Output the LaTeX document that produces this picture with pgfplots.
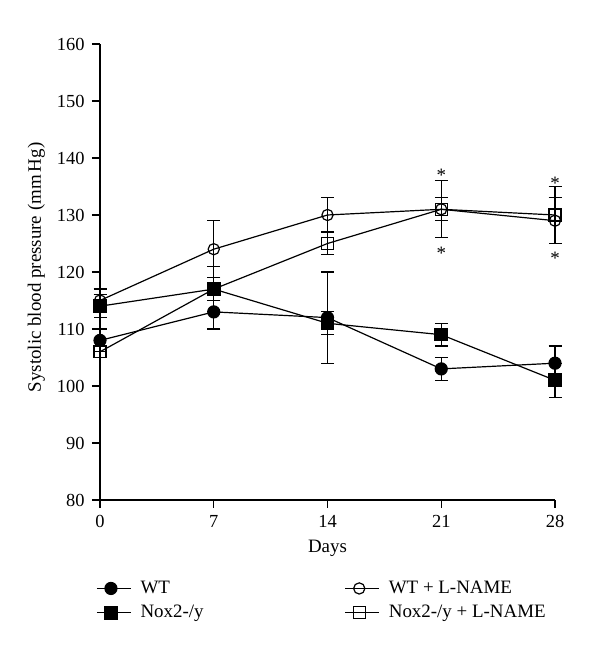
\documentclass[border=0pt]{standalone}
\usepackage{fontspec}
\setmainfont{Liberation Serif}
\usepackage{pgfplots}
\pgfplotsset{compat=1.18}
\usetikzlibrary{calc}
\begin{document}
\fontsize{19}{22}\selectfont
\begin{tikzpicture}
\begin{axis}[name=ax, scale only axis, width=455bp, height=456bp,
  xmin=0, xmax=28, ymin=80, ymax=160,
  axis x line=bottom, axis y line=left,
  axis line style={-, line width=1.2bp, black},
  xtick={0,7,14,21,28}, ytick={80,90,...,160},
  tick align=outside, major tick length=8bp,
  tick style={line width=1.2bp, black},
  /pgf/number format/assume math mode=true,
  ticklabel style={font=\fontsize{18.5}{22}\selectfont},
  xticklabel style={yshift=-1bp},
  yticklabel style={xshift=-1bp},
  clip=false,
  xlabel={Days}, ylabel={Systolic blood pressure (mm\,Hg)},
  xlabel style={at={(axis description cs:0.5,-0.105)}, anchor=center, font=\fontsize{19}{22}\selectfont},
  ylabel style={at={(axis description cs:-0.14,0.51)}, anchor=center, rotate=0, font=\fontsize{19}{22}\selectfont},
  legend columns=2, legend cell align=left,
  legend style={draw=none, fill=none, at={(axis description cs:-0.015,-0.168)}, anchor=north west,
    font=\fontsize{19}{22}\selectfont, row sep=5bp,
    /tikz/every even column/.append style={column sep=139bp},
    /tikz/every odd column/.append style={column sep=7bp}},
  legend image code/.code={\draw[mark repeat=2, mark phase=2] plot coordinates {(0bp,0bp) (14bp,0bp) (34bp,0bp)};},
  every axis plot/.append style={line width=1.2bp, black},
  error bars/error bar style={line width=1.2bp, black},
  error bars/error mark options={rotate=90, mark size=6.5bp, line width=1.2bp, black},
]
% WT
\addplot+[black, mark=*, mark size=6bp, mark options={fill=black, solid},
  error bars/.cd, y dir=both, y explicit]
  coordinates {(0,108) +- (0,2) (7,113) +- (0,3) (14,112) +- (0,8) (21,103) +- (0,2) (28,104) +- (0,3)};
\addlegendentry{WT}
% WT + L-NAME
\addplot+[black, mark=o, mark size=5.6bp, mark options={fill=white, solid},
  error bars/.cd, y dir=both, y explicit]
  coordinates {(0,115) +- (0,2) (7,124) +- (0,5) (14,130) +- (0,3) (21,131) +- (0,5) (28,129) +- (0,4)};
\addlegendentry{WT + L-NAME}
% Nox2-/y
\addplot+[black, mark=square*, mark size=6.2bp, mark options={fill=black, solid},
  error bars/.cd, y dir=both, y explicit]
  coordinates {(0,114) +- (0,2) (7,117) +- (0,2) (14,111) +- (0,2) (21,109) +- (0,2) (28,101) +- (0,3)};
\addlegendentry{Nox2-/y}
% Nox2-/y + L-NAME
\addplot+[black, mark=square, mark size=6bp, mark options={fill=white, solid},
  error bars/.cd, y dir=both, y explicit]
  coordinates {(0,106) +- (0,1) (7,117) +- (0,4) (14,125) +- (0,2) (21,131) +- (0,2) (28,130) +- (0,5)};
\addlegendentry{Nox2-/y + L-NAME}
\node[yshift=-4.5bp] at (axis cs:21,137.8) {*};
\node[yshift=-4.5bp] at (axis cs:21,124.0) {*};
\node[yshift=-4.5bp] at (axis cs:28,136.4) {*};
\node[yshift=-4.5bp] at (axis cs:28,123.2) {*};
\end{axis}
\pgfresetboundingbox
\path[use as bounding box] ($(ax.south west)+(-100bp,-147bp)$) rectangle ($(ax.north east)+(45bp,44bp)$);
\end{tikzpicture}
\end{document}
